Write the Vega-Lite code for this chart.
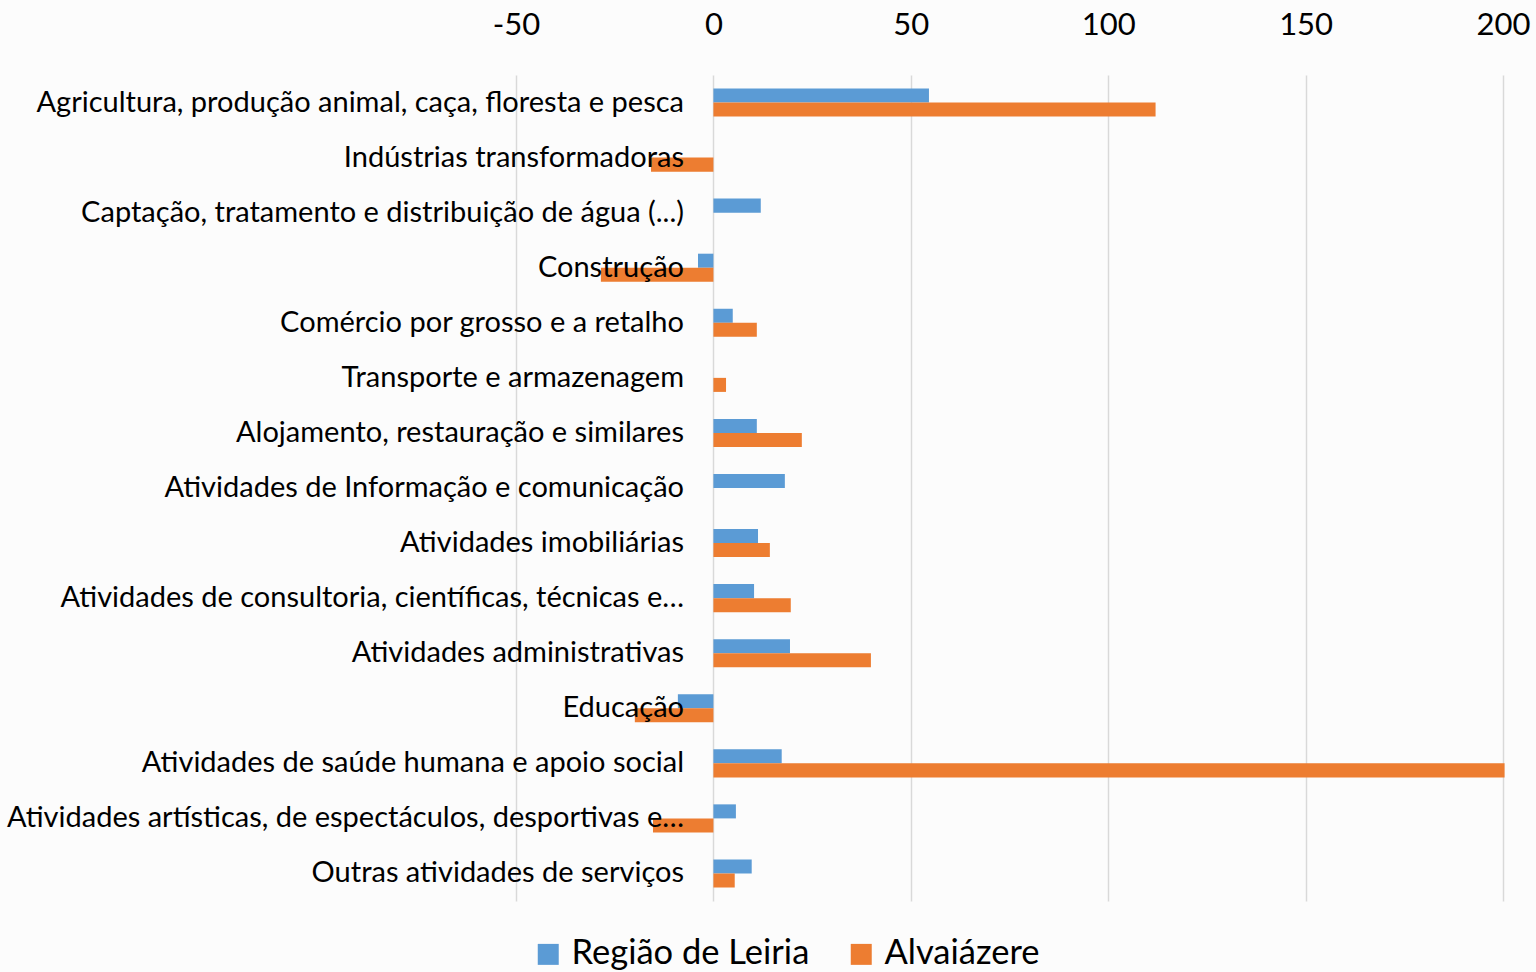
{
  "$schema": "https://vega.github.io/schema/vega-lite/v6.json",
  "autosize": "none",
  "width": 987,
  "height": 826,
  "padding": {"left": 516, "top": 75, "right": 33, "bottom": 71},
  "background": "#fcfcfc",
  "data": {
    "values": [
      {"categoria": "Agricultura, produção animal, caça, floresta e pesca", "serie": "Região de Leiria", "valor": 54.6},
      {"categoria": "Agricultura, produção animal, caça, floresta e pesca", "serie": "Alvaiázere", "valor": 112.0},
      {"categoria": "Indústrias transformadoras", "serie": "Região de Leiria", "valor": 0},
      {"categoria": "Indústrias transformadoras", "serie": "Alvaiázere", "valor": -15.8},
      {"categoria": "Captação, tratamento e distribuição de água (...)", "serie": "Região de Leiria", "valor": 12.0},
      {"categoria": "Captação, tratamento e distribuição de água (...)", "serie": "Alvaiázere", "valor": 0},
      {"categoria": "Construção", "serie": "Região de Leiria", "valor": -3.9},
      {"categoria": "Construção", "serie": "Alvaiázere", "valor": -28.5},
      {"categoria": "Comércio por grosso e a retalho", "serie": "Região de Leiria", "valor": 4.9},
      {"categoria": "Comércio por grosso e a retalho", "serie": "Alvaiázere", "valor": 11.0},
      {"categoria": "Transporte e armazenagem", "serie": "Região de Leiria", "valor": 0},
      {"categoria": "Transporte e armazenagem", "serie": "Alvaiázere", "valor": 3.2},
      {"categoria": "Alojamento, restauração e similares", "serie": "Região de Leiria", "valor": 11.0},
      {"categoria": "Alojamento, restauração e similares", "serie": "Alvaiázere", "valor": 22.4},
      {"categoria": "Atividades de Informação e comunicação", "serie": "Região de Leiria", "valor": 18.1},
      {"categoria": "Atividades de Informação e comunicação", "serie": "Alvaiázere", "valor": 0},
      {"categoria": "Atividades imobiliárias", "serie": "Região de Leiria", "valor": 11.3},
      {"categoria": "Atividades imobiliárias", "serie": "Alvaiázere", "valor": 14.3},
      {"categoria": "Atividades de consultoria, científicas, técnicas e…", "serie": "Região de Leiria", "valor": 10.3},
      {"categoria": "Atividades de consultoria, científicas, técnicas e…", "serie": "Alvaiázere", "valor": 19.6},
      {"categoria": "Atividades administrativas", "serie": "Região de Leiria", "valor": 19.4},
      {"categoria": "Atividades administrativas", "serie": "Alvaiázere", "valor": 39.9},
      {"categoria": "Educação", "serie": "Região de Leiria", "valor": -9.0},
      {"categoria": "Educação", "serie": "Alvaiázere", "valor": -19.9},
      {"categoria": "Atividades de saúde humana e apoio social", "serie": "Região de Leiria", "valor": 17.3},
      {"categoria": "Atividades de saúde humana e apoio social", "serie": "Alvaiázere", "valor": 200.4},
      {"categoria": "Atividades artísticas, de espectáculos, desportivas e…", "serie": "Região de Leiria", "valor": 5.7},
      {"categoria": "Atividades artísticas, de espectáculos, desportivas e…", "serie": "Alvaiázere", "valor": -15.3},
      {"categoria": "Outras atividades de serviços", "serie": "Região de Leiria", "valor": 9.7},
      {"categoria": "Outras atividades de serviços", "serie": "Alvaiázere", "valor": 5.4}
    ]
  },
  "mark": {"type": "bar", "clip": false},
  "encoding": {
    "y": {
      "field": "categoria",
      "type": "nominal",
      "sort": null,
      "title": null,
      "scale": {"paddingInner": 0.49, "paddingOuter": 0.245},
      "axis": {
        "offset": -197.5,
        "domain": false,
        "ticks": false,
        "grid": false,
        "labelPadding": 30,
        "labelFont": "Lato",
        "labelFontSize": 29,
        "labelColor": "#000000",
        "labelLimit": 0,
        "zindex": 1
      }
    },
    "yOffset": {
      "field": "serie",
      "type": "nominal",
      "sort": ["Região de Leiria", "Alvaiázere"]
    },
    "x": {
      "field": "valor",
      "type": "quantitative",
      "title": null,
      "scale": {"domain": [-50, 200], "nice": false, "zero": true},
      "axis": {
        "orient": "top",
        "values": [-50, 0, 50, 100, 150, 200],
        "labelExpr": "replace(datum.label, '−', '-')",
        "domain": false,
        "ticks": false,
        "grid": true,
        "gridColor": "#d9d9d9",
        "gridWidth": 1.5,
        "labelPadding": 34,
        "labelFont": "Lato",
        "labelFontSize": 31,
        "labelColor": "#000000",
        "labelFlush": false
      }
    },
    "color": {
      "field": "serie",
      "type": "nominal",
      "sort": ["Região de Leiria", "Alvaiázere"],
      "scale": {"domain": ["Região de Leiria", "Alvaiázere"], "range": ["#5b9bd5", "#ed7d31"]},
      "legend": {
        "title": null,
        "orient": "none",
        "direction": "horizontal",
        "legendX": 15,
        "legendY": 862,
        "symbolType": "square",
        "symbolSize": 440,
        "symbolStrokeWidth": 0,
        "symbolOpacity": 1,
        "labelFont": "Lato",
        "labelFontSize": 34.5,
        "labelColor": "#000000",
        "labelOffset": 6,
        "columnPadding": 34,
        "labelLimit": 0
      }
    }
  },
  "config": {"view": {"stroke": null}}
}
